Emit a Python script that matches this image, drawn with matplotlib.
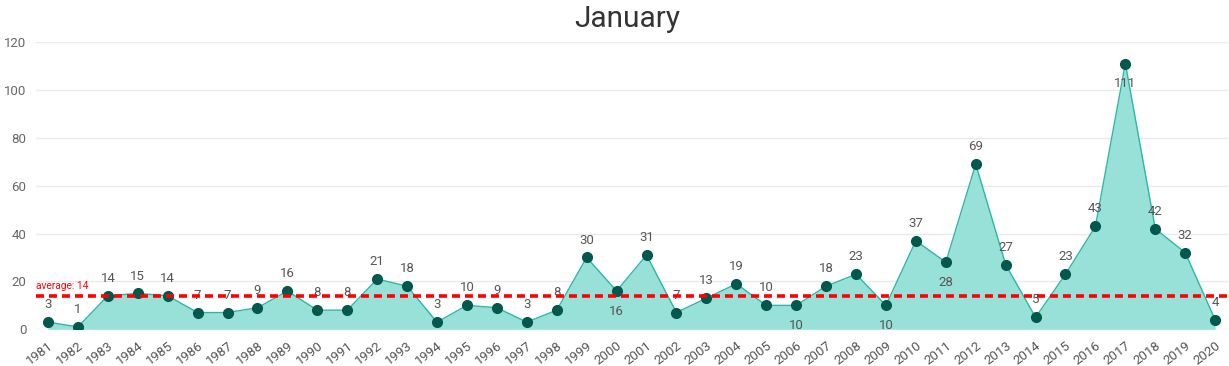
import matplotlib
matplotlib.use("Agg")
import matplotlib.pyplot as plt
import numpy as np

plt.rcParams['font.family'] = ['Roboto', 'DejaVu Sans']

years = [str(y) for y in range(1981, 2021)]
values = [3, 1, 14, 15, 14, 7, 7, 9, 16, 8, 8, 21, 18, 3, 10, 9, 3, 8, 30, 16,
          31, 7, 13, 19, 10, 10, 18, 23, 10, 37, 28, 69, 27, 5, 23, 43, 111, 42, 32, 4]
labels_below = ["2000", "2006", "2009", "2011", "2017"]
average_value = 14
title = "January"
yticks = [0, 20, 40, 60, 80, 100, 120]

fig = plt.figure(figsize=(12.29, 3.66), dpi=100)
ax = fig.add_axes([36/1229, 1-329.3/366, (1228-36)/1229, (329.3-42)/366])

x = np.arange(len(years))
ax.fill_between(x, values, 0, color="#98E1D9", zorder=2, linewidth=0)
ax.plot(x, values, color="#2BB8A6", linewidth=1.0, zorder=3)
ax.plot(x, values, linestyle="none", marker="o", markersize=7,
        color="#01594D", zorder=4)

for xi, yr, v in zip(x, years, values):
    if yr in labels_below:
        off = -14.5
    else:
        off = 12.5
    ax.annotate(str(v), (xi, v), xytext=(0, off), textcoords="offset points",
                ha="center", va="center", fontsize=9.5, color="#555555", zorder=5)

ax.axhline(average_value, color="#FF0000", linestyle=(0, (2.2, 1.4)), linewidth=2.6, zorder=6)
ax.text(-0.4, average_value + 2.2, f"average: {average_value}", color="#FF0000",
        fontsize=7.3, ha="left", va="bottom", zorder=6)

ax.set_xlim(-0.4, 39.43)
ax.set_ylim(0, 120)
ax.set_yticks(yticks)
ax.set_yticklabels([str(t) for t in yticks], fontsize=9.5, color="#666666")
ax.set_xticks(x)
ax.set_xticklabels(years, rotation=37, ha="right", rotation_mode="anchor",
                   fontsize=9.5, color="#555555")
ax.tick_params(axis="both", length=0)
ax.tick_params(axis="y", pad=7)
ax.tick_params(axis="x", pad=7)
ax.grid(axis="y", color="#E9E9E9", linewidth=1, zorder=0)
ax.set_axisbelow(True)
for s in ax.spines.values():
    s.set_visible(False)

fig.text(627/1229, 1-19/366, title, ha="center", va="center", fontsize=21.5, color="#333333")

fig.savefig("out.png", dpi=100)
